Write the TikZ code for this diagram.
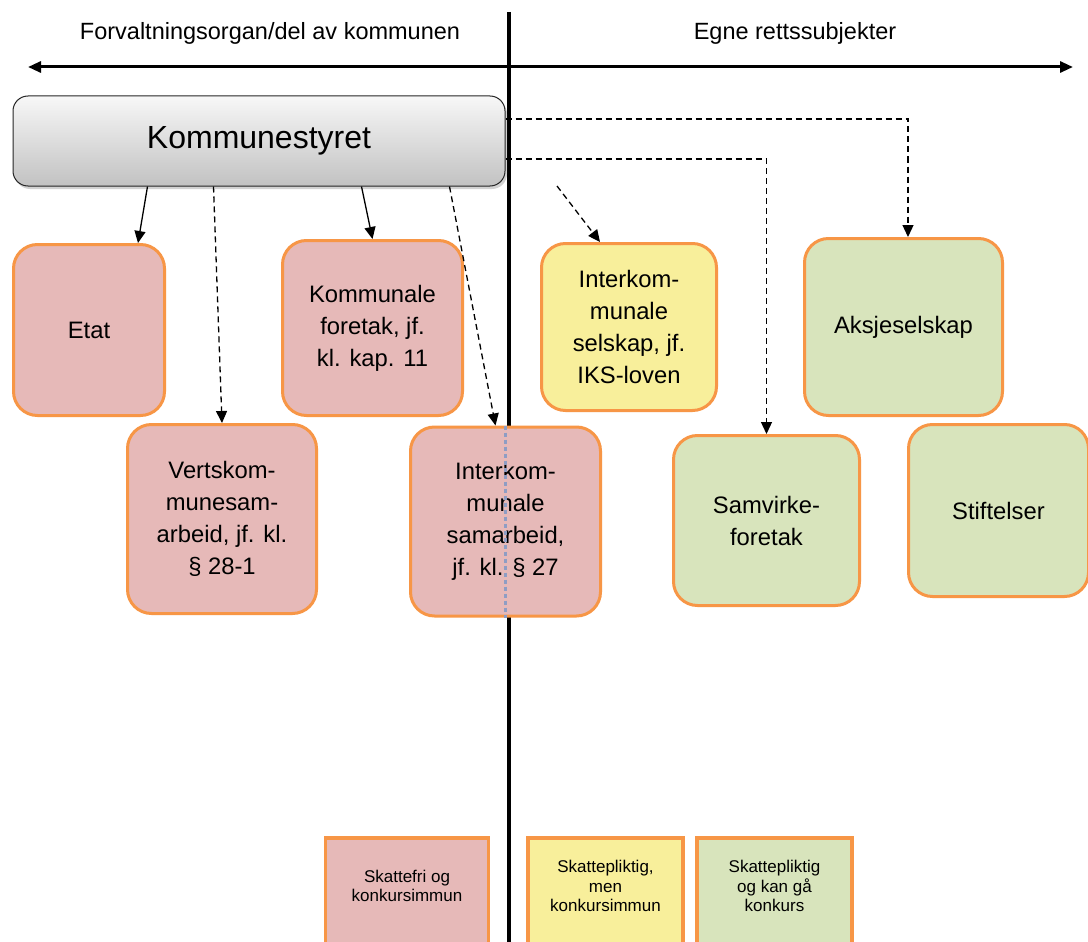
\documentclass[tikz,border=0pt]{standalone}
\usepackage{fontspec}
\setmainfont{Liberation Sans}
\usetikzlibrary{arrows.meta,calc,shadows}
\definecolor{pinkfill}{HTML}{E6B9B8}
\definecolor{yelfill}{HTML}{F8EF9B}
\definecolor{grnfill}{HTML}{D8E4BC}
\definecolor{orng}{HTML}{F79646}
\definecolor{dotblue}{HTML}{8E9DC4}
\begin{document}
\begin{tikzpicture}[x=1pt,y=-1pt,
  box/.style={draw=orng, line width=3pt, rounded corners=24pt, anchor=center,
    align=center, inner sep=0pt, font=\fontsize{23.8}{32}\selectfont},
  pinkbox/.style={box, fill=pinkfill},
  yelbox/.style={box, fill=yelfill},
  grnbox/.style={box, fill=grnfill},
  legbox/.style={draw=orng, line width=3.5pt, anchor=center, inner sep=0pt,
    minimum width=163pt, minimum height=120pt},
  legtext/.style={align=center, inner sep=0pt, font=\fontsize{17}{19.5}\selectfont},
  headtext/.style={inner sep=0pt, font=\fontsize{23.5}{27}\selectfont},
  sarr/.style={-{Triangle[length=12pt,width=11pt]}, line width=1.3pt},
  darr/.style={sarr, dash pattern=on 6pt off 4pt},
  axis/.style={line width=3pt, {Triangle[length=13pt,width=11pt]}-{Triangle[length=13pt,width=11pt]}},
]
\useasboundingbox (0,0) rectangle (1088,942);
\clip (0,0) rectangle (1088,942);
\fill[white] (0,0) rectangle (1088,942);

% header
\node[headtext] (hl) at (270,33) {Forvaltningsorgan/del av kommunen};
\node[headtext] (hr) at (795,33) {Egne rettssubjekter};
\coordinate (axl) at (28,67);
\coordinate (axr) at (1073,67);
\draw[axis] (axl) -- (axr);
\coordinate (vtop) at (509,12);
\coordinate (vbot) at (509,945);
\draw[line width=3.5pt] (vtop) -- (vbot);

% Kommunestyret
\node[draw=black!85, line width=1pt, rounded corners=15pt, top color=gray!6,
  bottom color=gray!48, minimum width=492pt, minimum height=90pt, inner sep=0pt,
  drop shadow={shadow xshift=2pt, shadow yshift=-3pt, opacity=0.35},
  font=\fontsize{32}{36}\selectfont] (ks) at (259,141) {\raisebox{-2pt}{Kommunestyret}};

% boxes
\node[pinkbox, minimum width=151pt, minimum height=171pt] (etat) at (89,330) {Etat};
\node[pinkbox, minimum width=180pt, minimum height=175pt] (kf) at (372.5,328) {Kommunale\\foretak, jf.\\kl. kap. 11};
\node[pinkbox, minimum width=189pt, minimum height=189pt] (verts) at (222,519) {Vertskom-\\munesam-\\arbeid, jf. kl.\\§ 28-1};
\node[pinkbox, minimum width=190pt, minimum height=189pt] (isam) at (505.5,521.5) {Interkom-\\munale\\samarbeid,\\jf. kl. § 27};
\node[yelbox, minimum width=175pt, minimum height=167pt] (isel) at (629,327) {Interkom-\\munale\\selskap, jf.\\IKS-loven};
\node[grnbox, minimum width=198pt, minimum height=177pt] (aks) at (903.5,327) {Aksjeselskap};
\node[grnbox, minimum width=186pt, minimum height=170pt] (sam) at (766.5,520.5) {Samvirke-\\foretak};
\node[grnbox, minimum width=180pt, minimum height=172pt] (stif) at (998.5,510.5) {Stiftelser};

% dotted line in Interkommunale samarbeid
\draw[dotblue, line width=3pt, dash pattern=on 4pt off 3pt] (isam.north) -- (isam.south);

% connectors
\draw[sarr] ($(ks.south west)+(135,0)$) -- ($(etat.north west)+(126,0)$);
\draw[darr] ($(ks.south west)+(201,0)$) -- (verts.north);
\draw[sarr] ($(ks.south west)+(349,0)$) -- (kf.north);
\draw[darr] ($(ks.south west)+(437,0)$) -- ($(isam.north)+(-10,0)$);
\coordinate (selstart) at (557,186);
\draw[darr] (selstart) -- ($(isel.north)+(-29,0)$);
\draw[darr] ($(ks.east)+(0,-22)$) -| ($(aks.north)+(4.5,0)$);
\draw[darr] ($(ks.east)+(0,18)$) -| (sam.north);

% legend
\node[legbox, fill=pinkfill] (lg1) at (407,898) {};
\node[legbox, fill=yelfill, minimum width=155pt] (lg2) at (605.5,898) {};
\node[legbox, fill=grnfill, minimum width=155pt] (lg3) at (774.5,898) {};
\node[legtext] (lt1) at (407,886) {Skattefri og\\konkursimmun};
\node[legtext] (lt2) at (605.5,886) {Skattepliktig,\\men\\konkursimmun};
\node[legtext] (lt3) at (774.5,886) {Skattepliktig\\og kan gå\\konkurs};
\end{tikzpicture}
\end{document}
